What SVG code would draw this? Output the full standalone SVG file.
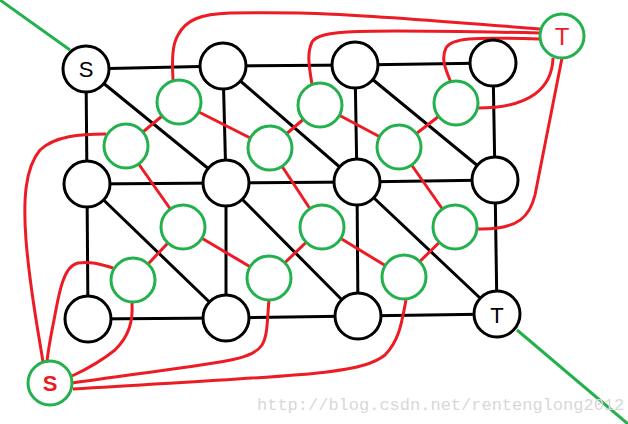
<svg xmlns="http://www.w3.org/2000/svg" width="628" height="424" viewBox="0 0 628 424">
<style>
.blk{fill:#fff;stroke:#000;stroke-width:3}
.grn{fill:#fff;stroke:#22b14c;stroke-width:3}
.e{stroke:#000;stroke-width:3;fill:none}
.r{stroke:#ed1c24;stroke-width:3;fill:none}
.g{stroke:#22b14c;stroke-width:3;fill:none}
.lb{font-family:"Liberation Sans",Arial,sans-serif;text-anchor:middle}
</style>
<rect width="628" height="424" fill="#fff"/>
<g id="primal-edges">
<line class="g" x1="0" y1="0" x2="70" y2="50"/>
<line class="g" x1="517" y1="330" x2="628" y2="424"/>
<line class="e" x1="86" y1="69" x2="223" y2="66"/>
<line class="e" x1="223" y1="66" x2="355" y2="65"/>
<line class="e" x1="355" y1="65" x2="493" y2="63"/>
<line class="e" x1="87" y1="184" x2="226" y2="183"/>
<line class="e" x1="226" y1="183" x2="357" y2="182"/>
<line class="e" x1="357" y1="182" x2="495" y2="180"/>
<line class="e" x1="88" y1="319" x2="226" y2="318"/>
<line class="e" x1="226" y1="318" x2="358" y2="316"/>
<line class="e" x1="358" y1="316" x2="497" y2="314"/>
<line class="e" x1="86" y1="69" x2="87" y2="184"/>
<line class="e" x1="87" y1="184" x2="88" y2="319"/>
<line class="e" x1="223" y1="66" x2="226" y2="183"/>
<line class="e" x1="226" y1="183" x2="226" y2="318"/>
<line class="e" x1="355" y1="65" x2="357" y2="182"/>
<line class="e" x1="357" y1="182" x2="358" y2="316"/>
<line class="e" x1="493" y1="63" x2="495" y2="180"/>
<line class="e" x1="495" y1="180" x2="497" y2="314"/>
<line class="e" x1="86" y1="69" x2="226" y2="183"/>
<line class="e" x1="223" y1="66" x2="357" y2="182"/>
<line class="e" x1="355" y1="65" x2="495" y2="180"/>
<line class="e" x1="87" y1="184" x2="226" y2="318"/>
<line class="e" x1="226" y1="183" x2="358" y2="316"/>
<line class="e" x1="357" y1="182" x2="497" y2="314"/>
</g>
<g id="dual-edges">
<line class="r" x1="179" y1="102" x2="126" y2="146"/>
<line class="r" x1="179" y1="102" x2="270" y2="148"/>
<line class="r" x1="126" y1="146" x2="183" y2="227"/>
<line class="r" x1="270" y1="148" x2="320" y2="105"/>
<line class="r" x1="270" y1="148" x2="322" y2="227"/>
<line class="r" x1="320" y1="105" x2="399" y2="147"/>
<line class="r" x1="399" y1="147" x2="456" y2="103"/>
<line class="r" x1="399" y1="147" x2="455" y2="227"/>
<line class="r" x1="183" y1="227" x2="133" y2="280"/>
<line class="r" x1="183" y1="227" x2="269" y2="278"/>
<line class="r" x1="269" y1="278" x2="322" y2="227"/>
<line class="r" x1="322" y1="227" x2="404" y2="277"/>
<line class="r" x1="404" y1="277" x2="455" y2="227"/>
<path class="r" d="M106,134 C80,134 55,136 40,150 C25,168 23,200 26,240 C30,290 38,330 43,362"/>
<path class="r" d="M113,268 C100,264 90,261 78,263 C62,266 58,300 54,320 C50,340 48,350 47,362"/>
<path class="r" d="M132,303 C133,320 130,335 115,350 C100,362 85,370 72,376"/>
<path class="r" d="M269,300 C267,320 268,335 262,345 C250,362 220,362 72,383"/>
<path class="r" d="M406,300 C402,320 400,340 385,355 C360,375 300,375 73,389"/>
<path class="r" d="M478,229 C520,230 530,215 535,195 L562,58"/>
<path class="r" d="M478,108 C530,108 552,88 553,58"/>
<path class="r" d="M452,85 C447,72 440,60 446,48 C452,38 470,37 540,39"/>
<path class="r" d="M312,85 C310,70 306,55 312,42 C320,30 350,29 540,33"/>
<path class="r" d="M173,80 C172,60 172,45 178,35 C186,20 200,14 230,13 C300,12 330,12 540,29"/>
</g>
<g id="node-S"><circle class="blk" cx="86" cy="69" r="23"/><text class="lb" x="86" y="77" font-size="22" fill="#000">S</text></g>
<g id="node-a"><circle class="blk" cx="223" cy="66" r="23"/></g>
<g id="node-b"><circle class="blk" cx="355" cy="65" r="23"/></g>
<g id="node-c"><circle class="blk" cx="493" cy="63" r="23"/></g>
<g id="node-d"><circle class="blk" cx="87" cy="184" r="23"/></g>
<g id="node-e"><circle class="blk" cx="226" cy="183" r="23"/></g>
<g id="node-f"><circle class="blk" cx="357" cy="182" r="23"/></g>
<g id="node-g"><circle class="blk" cx="495" cy="180" r="23"/></g>
<g id="node-h"><circle class="blk" cx="88" cy="319" r="23"/></g>
<g id="node-i"><circle class="blk" cx="226" cy="318" r="23"/></g>
<g id="node-j"><circle class="blk" cx="358" cy="316" r="23"/></g>
<g id="node-T"><circle class="blk" cx="497" cy="314" r="23"/><text class="lb" x="497" y="323" font-size="22" fill="#000">T</text></g>
<g id="dual-1"><circle class="grn" cx="179" cy="102" r="22"/></g>
<g id="dual-2"><circle class="grn" cx="126" cy="146" r="22"/></g>
<g id="dual-3"><circle class="grn" cx="270" cy="148" r="22"/></g>
<g id="dual-4"><circle class="grn" cx="320" cy="105" r="22"/></g>
<g id="dual-5"><circle class="grn" cx="399" cy="147" r="22"/></g>
<g id="dual-6"><circle class="grn" cx="456" cy="103" r="22"/></g>
<g id="dual-7"><circle class="grn" cx="183" cy="227" r="22"/></g>
<g id="dual-8"><circle class="grn" cx="133" cy="280" r="22"/></g>
<g id="dual-9"><circle class="grn" cx="269" cy="278" r="22"/></g>
<g id="dual-10"><circle class="grn" cx="322" cy="227" r="22"/></g>
<g id="dual-11"><circle class="grn" cx="455" cy="227" r="22"/></g>
<g id="dual-12"><circle class="grn" cx="404" cy="277" r="22"/></g>
<g id="dual-S"><circle class="grn" cx="50" cy="383" r="22"/><text class="lb" x="50" y="391" font-size="22" font-weight="bold" fill="#ed1c24">S</text></g>
<g id="dual-T"><circle class="grn" cx="562" cy="36" r="22"/><text class="lb" x="562" y="45" font-size="24" fill="#ed1c24">T</text></g>
<text x="257" y="410" font-family="Liberation Mono,monospace" font-size="17" fill="#d8d8d8">http://blog.csdn.net/rentenglong2012</text>
</svg>
